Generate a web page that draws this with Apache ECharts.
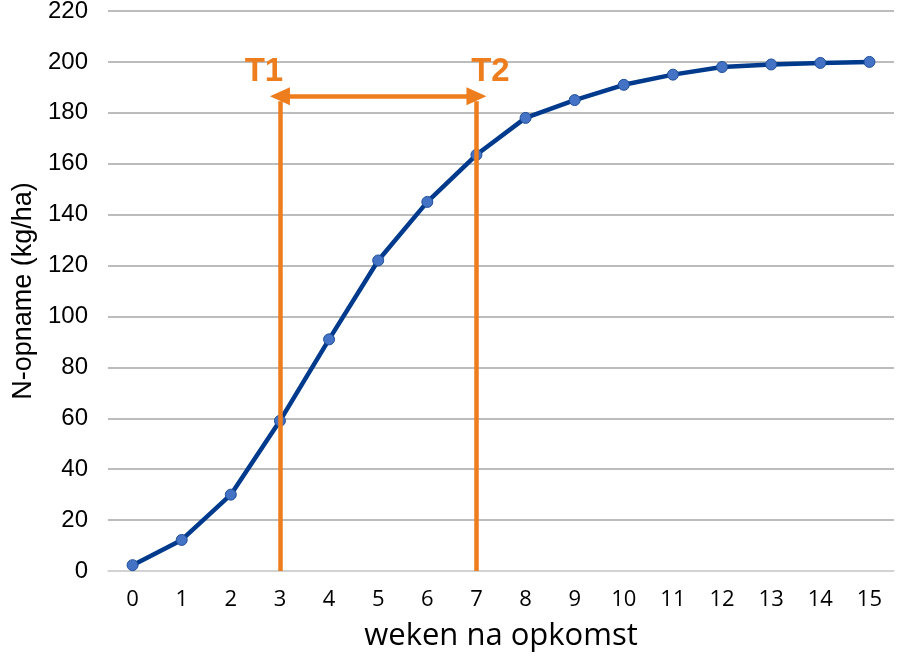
<!DOCTYPE html>
<html><head><meta charset="utf-8">
<script src="https://cdn.jsdelivr.net/npm/echarts@6/dist/echarts.min.js"></script>
<style>html,body{margin:0;padding:0;background:#fff}#c{width:904px;height:659px}</style>
</head><body><div id="c"></div>
<script>
const weeks = ['0','1','2','3','4','5','6','7','8','9','10','11','12','13','14','15'];
const nUptake = [2.3, 12.2, 30, 59, 91, 122, 145, 163.5, 178, 185, 191, 195, 198, 199, 199.6, 200];
const markWeeks = ['3','7'];
const markLabels = ['T1','T2'];
const markTop = 184.5;
const arrowLevel = 186.5;
const labelLevel = 196;

const orange = '#EE7D1E';
const chart = echarts.init(document.getElementById('c'));
chart.setOption({
  animation: false,
  grid: {left: 108, right: 10, top: 11, bottom: 88, containLabel: false, outerBoundsMode: 'none'},
  xAxis: {
    type: 'category', data: weeks, boundaryGap: true,
    name: 'weken na opkomst', nameLocation: 'middle', nameGap: 50,
    nameTextStyle: {fontFamily: 'Open Sans', fontSize: 31, color: '#000'},
    axisLine: {lineStyle: {color: '#D9D9D9', width: 1.5}},
    axisTick: {show: false},
    axisLabel: {fontFamily: 'Open Sans', fontSize: 22, color: '#000', margin: 18}
  },
  yAxis: {
    type: 'value', min: 0, max: 220, interval: 20,
    name: 'N-opname (kg/ha)', nameLocation: 'middle', nameGap: 64, nameRotate: 90,
    nameTextStyle: {fontFamily: 'Liberation Sans', fontSize: 27, color: '#000'},
    axisLine: {show: false}, axisTick: {show: false},
    axisLabel: {fontFamily: 'Liberation Sans', fontSize: 24, color: '#000', margin: 20},
    splitLine: {lineStyle: {color: '#A6A6A6', width: 1.5}}
  },
  series: [
    {
      type: 'line', data: nUptake, z: 3,
      lineStyle: {color: '#003A8C', width: 4.5},
      symbol: 'circle', symbolSize: 11,
      itemStyle: {color: '#4472C4', borderColor: '#1F4E9A', borderWidth: 1}
    },
    {
      type: 'line', data: [], z: 4,
      markLine: {
        silent: true, symbol: ['none','none'],
        lineStyle: {color: orange, width: 4.5, type: 'solid'},
        label: {show: false},
        data: [
          ...markWeeks.map(w => [{coord: [w, 0]}, {coord: [w, markTop]}]),
          [{coord: [markWeeks[0], arrowLevel], symbol: 'triangle', symbolRotate: 90},
           {coord: [markWeeks[1], arrowLevel], symbol: 'triangle'}]
        ],
        symbolSize: [18, 20]
      },
      markPoint: {
        silent: true, symbol: 'circle', symbolSize: 0,
        label: {show: true, color: orange, fontFamily: 'Liberation Sans', fontWeight: 'bold', fontSize: 33},
        data: markWeeks.map((w, i) => ({coord: [w, labelLevel], value: markLabels[i], label: {formatter: markLabels[i], offset: [i === 0 ? -16 : 14, 0]}}))
      }
    }
  ]
});
</script></body></html>
